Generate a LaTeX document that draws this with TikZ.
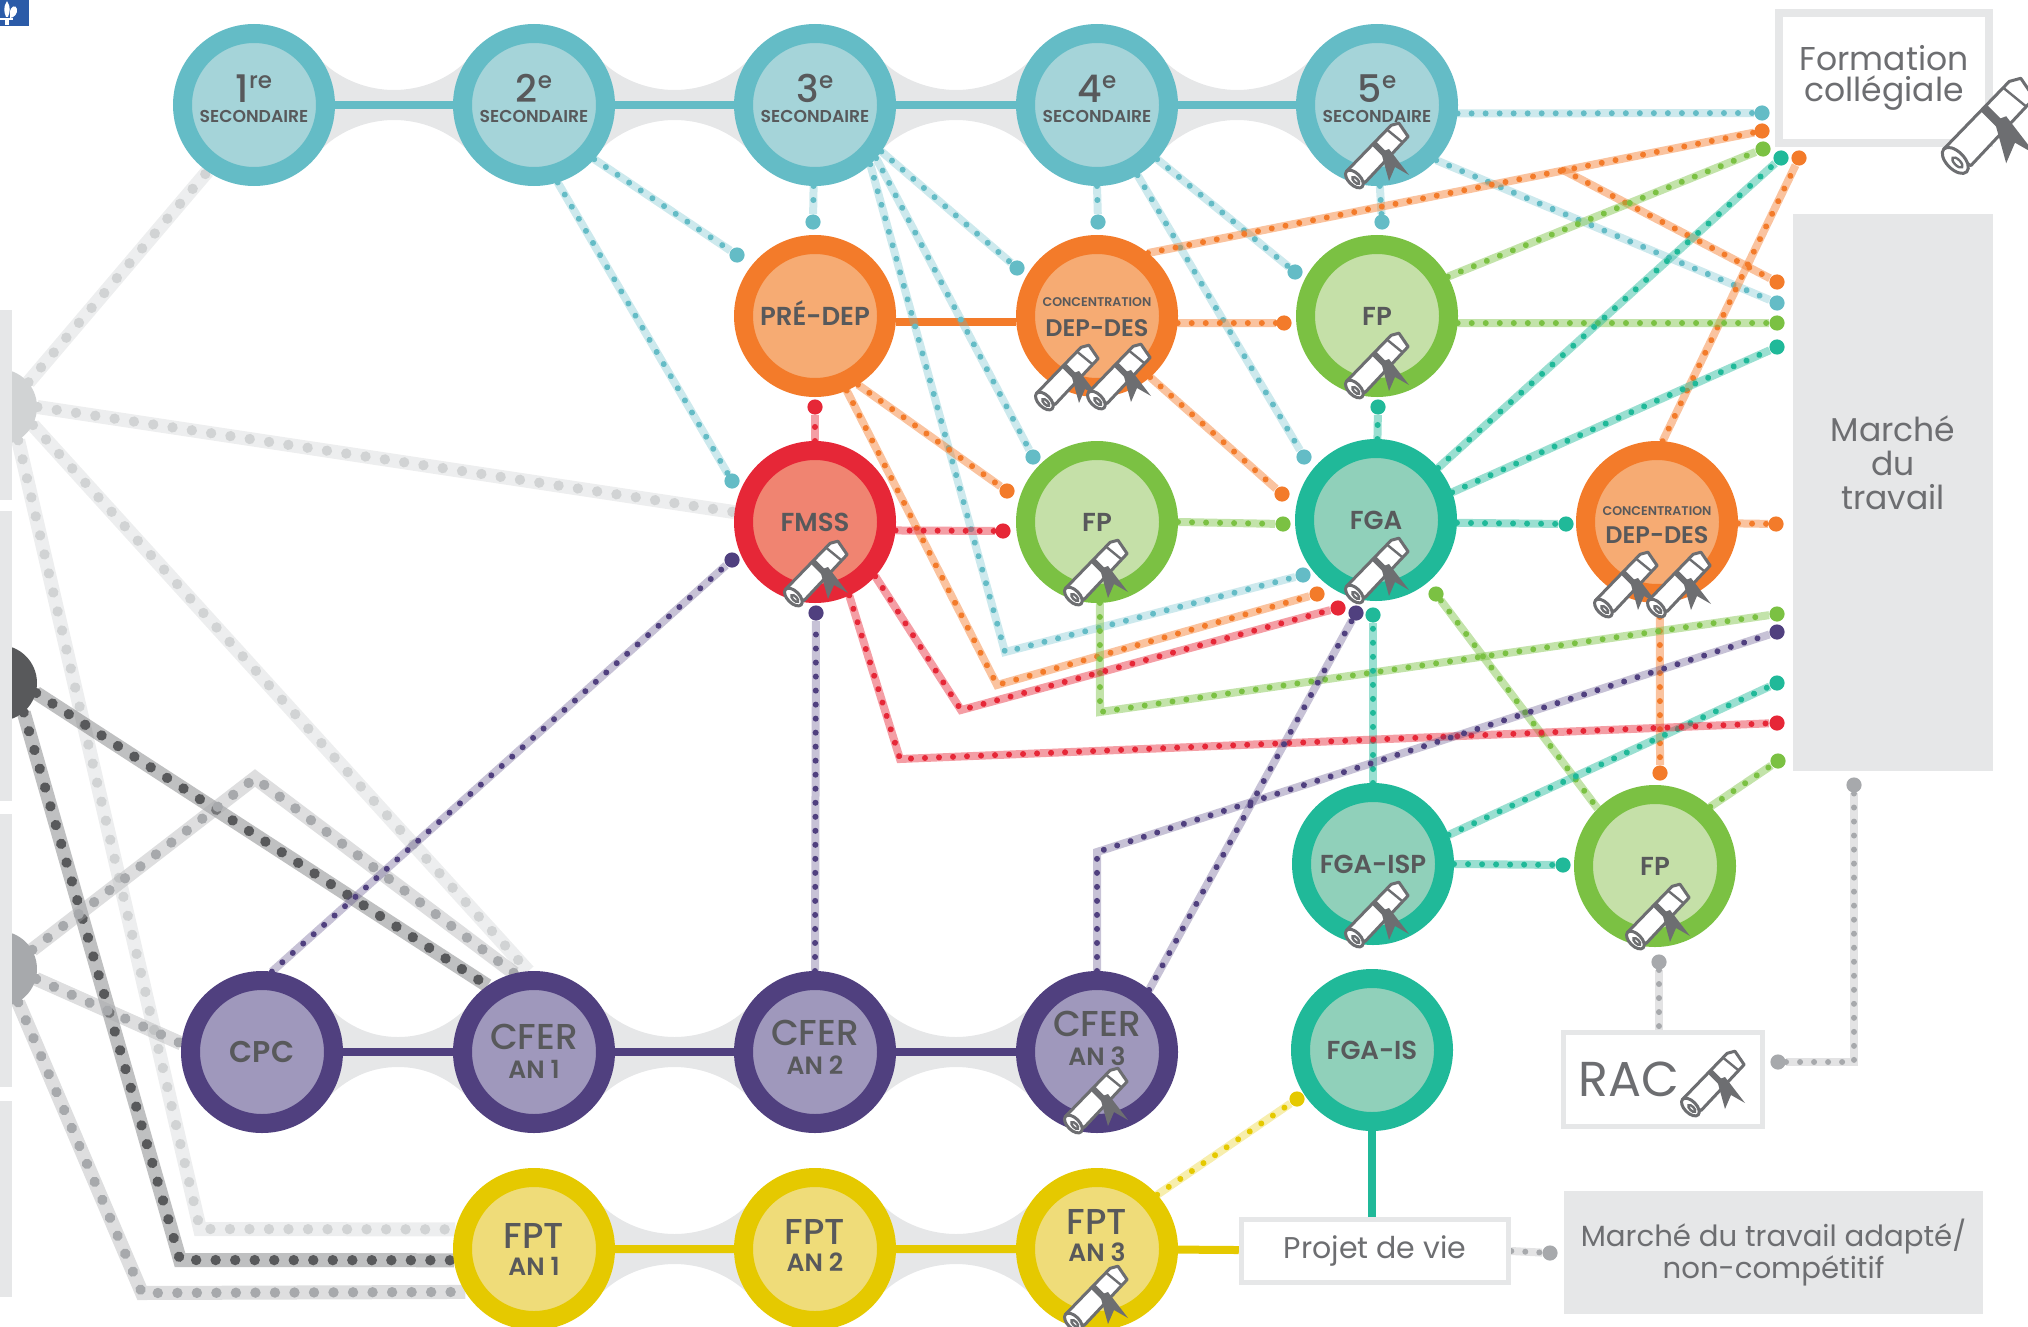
\documentclass[tikz,border=0pt]{standalone}
\usepackage{fontspec}
\setmainfont{Poppins}
\newfontfamily\medfont{Poppins SemiBold}
\newfontfamily\midfont{Poppins Medium}
\usetikzlibrary{calc}
\pgfdeclarelayer{back}
\pgfsetlayers{back,main}

\definecolor{txtd}{HTML}{58595B}
\definecolor{txtl}{HTML}{6D6E71}
\definecolor{boxg}{HTML}{E6E7E8}
\definecolor{clogo}{HTML}{2B5BA8}
\definecolor{cteal}{HTML}{64BCC6}
\definecolor{ctealp}{HTML}{A5D4D9}
\definecolor{corange}{HTML}{F37B2A}
\definecolor{corangep}{HTML}{F6AB73}
\definecolor{cgreen}{HTML}{7BC143}
\definecolor{cgreenp}{HTML}{C5E0A8}
\definecolor{cred}{HTML}{E62737}
\definecolor{credp}{HTML}{F08471}
\definecolor{cjade}{HTML}{20B999}
\definecolor{cjadep}{HTML}{90D0BA}
\definecolor{cpurple}{HTML}{50407F}
\definecolor{cpurplep}{HTML}{9F98BC}
\definecolor{cyellow}{HTML}{E5C900}
\definecolor{cyellowp}{HTML}{EFDC79}
\definecolor{glight}{HTML}{D1D3D4}
\definecolor{gdark}{HTML}{58595B}
\definecolor{gmid}{HTML}{A7A9AC}

\newcommand{\nodetxt}{\medfont\fontsize{13}{15}\selectfont}
\newcommand{\largetxt}{\fontsize{16.5}{16.5}\selectfont}
\newcommand{\rowtxt}{\midfont\fontsize{18}{18}\selectfont}
\newcommand{\subtxt}{\medfont\fontsize{12.5}{14}\selectfont}
\newcommand{\deptxt}{\medfont\fontsize{12}{14}\selectfont}
\newcommand{\tinytxt}{\medfont\fontsize{6.3}{7}\selectfont}
\newcommand{\sectxt}{\medfont\fontsize{8.6}{9}\selectfont}
% two lines of text on baselines raised from the centre of the node
\newcommand{\duo}[4]{\makebox[0pt]{\raisebox{#1}[0pt][0pt]{#2}}\makebox[0pt]{\raisebox{#3}[0pt][0pt]{#4}}}
\newcommand{\ordn}[2]{{\midfont\fontsize{19}{19}\selectfont #1}\raisebox{6.8pt}{\midfont\fontsize{11.5}{12}\selectfont #2}}
\newcommand{\linkweb}[2]{\fill[boxg] (#1.32) .. controls +(19,18) and +(-26,0) .. ($(#1)!.5!(#2)+(0,-15)$) .. controls +(26,0) and +(-19,18) .. (#2.148) -- (#2.-148) .. controls +(-19,-18) and +(26,0) .. ($(#1)!.5!(#2)+(0,15)$) .. controls +(-26,0) and +(19,-18) .. (#1.-32) -- cycle;}

\tikzset{
  stage/.style 2 args={circle,draw=#1,fill=#2,line width=9.5pt,minimum size=71.5pt,inner sep=0pt,text=txtd,font=\nodetxt},
  secnode/.style={stage={cteal}{ctealp}},
  depnode/.style={stage={corange}{corangep}},
  fpnode/.style={stage={cgreen}{cgreenp}},
  fganode/.style={stage={cjade}{cjadep}},
  cfernode/.style={stage={cpurple}{cpurplep}},
  fptnode/.style={stage={cyellow}{cyellowp}},
  srcnode/.style={circle,fill=#1,minimum size=38pt,inner sep=0pt},
  outbox/.style={draw=boxg,fill=white,line width=#1,inner sep=0pt,text=txtl,align=center},
  greybox/.style={fill=boxg,inner sep=0pt,outer sep=0pt,text=txtl,align=center},
  endpt/.style={circle,fill=#1,inner sep=0pt,minimum size=7.6pt},
  link/.style={draw=#1,draw opacity=.45,line width=4pt,postaction={draw=#1,draw opacity=1,line width=3pt,line cap=round,dash pattern=on 0.01pt off 7pt}},
  palelink/.style={link=#1,draw opacity=.32},
  biglink/.style={draw=#1,draw opacity=.38,line width=7pt,postaction={draw=#1,draw opacity=1,line width=5.2pt,line cap=round,dash pattern=on 0.01pt off 9.75pt}},
  spine/.style={draw=#1,line width=4pt},
  diploma/.pic={
    \begin{scope}[shift={(-1,-2)},rotate=45]
      \filldraw[draw=txtl,fill=white,line width=1.5pt,line join=round] (-33,-10) -- (31,-11) -- (38,-7) -- (35,9) -- (-28,11) -- cycle;
      \draw[txtl,line width=1.2pt] (25,-11) -- (27,9);
      \filldraw[draw=txtl,fill=white,line width=1.5pt] (-33,1) ellipse (6 and 11);
      \draw[txtl,line width=1.2pt] (-33,3) ellipse (2 and 4.5);
      \fill[txtl] (3,-11) rectangle (9,11);
    \end{scope}
    \fill[txtl] (3,-5) -- (11,24) -- (17,10) -- (31,18) -- (11,-8) -- cycle;
  }
}

\begin{document}
\begin{tikzpicture}[x=0.5pt,y=-0.5pt]
\useasboundingbox (0,0) rectangle (2028,1327);
\clip (0,0) rectangle (2028,1327);

% logo
\fill[clogo] (0,0) rectangle (29,26);
\fill[white] (7,1) .. controls (11,7) and (10,12) .. (8,17) -- (6,17) .. controls (4,12) and (3,7) .. (7,1);
\fill[white] (10,13) .. controls (10,6) and (16,4) .. (17,9) .. controls (18,13) and (14,18) .. (10,18) -- cycle;
\fill[white] (0,18) rectangle (13,20);
\fill[white] (5,20) rectangle (9,25);

% sources at the left
\node[srcnode=glight] (src_1) at (-1,407) {};
\node[srcnode=gdark]  (src_2) at (-1,683) {};
\node[srcnode=gmid]   (src_3) at (-1,969) {};
\foreach \a/\b in {310/500,511/801,814/1087,1101/1297}
  \fill[boxg] (0,\a) rectangle (12,\b);

% secondaire
\node[secnode] (s_1) at (254,105)  {\duo{1.5pt}{\ordn{1}{re}}{-9pt}{\sectxt SECONDAIRE}};
\node[secnode] (s_2) at (534,105)  {\duo{1.5pt}{\ordn{2}{e}}{-9pt}{\sectxt SECONDAIRE}};
\node[secnode] (s_3) at (815,105)  {\duo{1.5pt}{\ordn{3}{e}}{-9pt}{\sectxt SECONDAIRE}};
\node[secnode] (s_4) at (1097,105) {\duo{1.5pt}{\ordn{4}{e}}{-9pt}{\sectxt SECONDAIRE}};
\node[secnode] (s_5) at (1377,105) {\duo{1.5pt}{\ordn{5}{e}}{-9pt}{\sectxt SECONDAIRE}};

% formations
\node[depnode] (pre) at (815,316) {\duo{-4.5pt}{PRÉ-DEP}{0pt}{}};
\node[depnode] (dep_1) at (1097,316) {\duo{4.75pt}{\tinytxt CONCENTRATION}{-10pt}{\deptxt DEP-DES}};
\node[fpnode] (fp_1) at (1377,316) {FP};
\node[stage={cred}{credp}] (fmss) at (815,522) {FMSS};
\node[fpnode] (fp_2) at (1097,522) {FP};
\node[fganode] (fga) at (1376,520) {FGA};
\node[depnode] (dep_2) at (1657,522) {\duo{3.5pt}{\tinytxt CONCENTRATION}{-10.5pt}{\deptxt DEP-DES}};
\node[fganode] (isp) at (1373,864) {FGA-ISP};
\node[fpnode] (fp_3) at (1655,866) {FP};
\node[fganode] (is) at (1372,1050) {FGA-IS};

% cfer et fpt
\node[cfernode,font=\medfont\fontsize{15}{15}\selectfont] (cpc) at (262,1052) {CPC};
\node[cfernode] (cf_1) at (534,1052) {\duo{1.5pt}{\rowtxt CFER}{-13pt}{\subtxt AN 1}};
\node[cfernode] (cf_2) at (815,1052) {\duo{3.5pt}{\rowtxt CFER}{-11pt}{\subtxt AN 2}};
\node[cfernode] (cf_3) at (1097,1052) {\duo{8pt}{\rowtxt CFER}{-6.5pt}{\subtxt AN 3}};
\node[fptnode] (fpt_1) at (534,1249) {\duo{.5pt}{\rowtxt FPT}{-13pt}{\subtxt AN 1}};
\node[fptnode] (fpt_2) at (815,1249) {\duo{2.5pt}{\rowtxt FPT}{-11pt}{\subtxt AN 2}};
\node[fptnode] (fpt_3) at (1097,1249) {\duo{7.5pt}{\rowtxt FPT}{-6pt}{\subtxt AN 3}};

% boxes
\node[outbox=4pt,minimum width=105pt,minimum height=65pt,font=\fontsize{16.5}{15.5}\selectfont] (cegep) at (1884,78) {Formation\\collégiale};
\node[greybox,minimum width=100pt,minimum height=278.5pt] (market) at (1893,492.5)
  {\raisebox{12.5pt}[0pt][0pt]{\parbox[c]{90pt}{\centering\largetxt\baselineskip=17pt Marché\\du\\travail\par}}};
\node[outbox=2.5pt,minimum width=99.75pt,minimum height=47pt,font=\fontsize{24.5}{24.5}\selectfont] (rac) at (1663,1079.5) {\makebox[0pt]{RAC\kern34pt}};
\node[outbox=2.5pt,minimum width=133.75pt,minimum height=31.5pt,font=\fontsize{15}{16}\selectfont] (projet) at (1375,1251) {Projet de vie};
\node[greybox,minimum width=209.5pt,minimum height=61.5pt,font=\fontsize{14.6}{16.4}\selectfont] (adapte) at (1773.5,1252.5) {Marché du travail adapté/\\non-compétitif};

% diplomas
\foreach \x/\y in {1378/157,1378/367,817/575,1097/574,1378/572,1378/916,1659/918,1097/1102,1097/1300,1068/379,1120/378,1627/586,1680/586,1714/1085}
  \pic at (\x,\y) {diploma};
\pic[scale=1.47] at (1990,128) {diploma};

% end points
\foreach \n/\x/\y in {1/1762/113,2/1777/303,3/1382/222,4/813/222,5/1017/268,6/1033/457,7/1303/575,8/1098/222,9/1295/272,10/1304/457,11/737/255,12/732/481}
  \node[endpt=cteal] (te\n) at (\x,\y) {};
\foreach \n/\x/\y in {1/1762/131,2/1777/282,3/1799/158,4/1007/491,5/1317/594,6/1284/323,7/1282/494,8/1776/524,9/1660/773}
  \node[endpt=corange] (or\n) at (\x,\y) {};
\foreach \n/\x/\y in {1/1763/149,2/1777/323,3/1283/524,4/1777/614,5/1436/594,6/1778/761}
  \node[endpt=cgreen] (gr\n) at (\x,\y) {};
\foreach \n/\x/\y in {1/1781/158,2/1777/347,3/1378/407,4/1566/524,5/1373/615,6/1777/683,7/1563/865}
  \node[endpt=cjade] (ja\n) at (\x,\y) {};
\foreach \n/\x/\y in {1/815/407,2/1003/531,3/1338/608,4/1777/723}
  \node[endpt=cred] (re\n) at (\x,\y) {};
\foreach \n/\x/\y in {1/732/560,2/816/613,3/1777/632,4/1356/613}
  \node[endpt=cpurple] (pu\n) at (\x,\y) {};
\foreach \n/\x/\y in {1/1659/962,2/1854/785,3/1778/1062,4/1550/1253}
  \node[endpt=gmid] (gy\n) at (\x,\y) {};
\node[endpt=cyellow] (ye1) at (1297,1099) {};

% elbows of the connectors
\coordinate (bendte) at (1005,652);
\coordinate (bendor) at (997,685);
\coordinate (splitor) at (1563,170);
\coordinate (bendre1) at (961,710);
\coordinate (bendre2) at (900,759);
\coordinate (bendgr) at (1100,712);
\coordinate (bendpu) at (1097,852);
\coordinate (bendgy) at (1854,1062);
\coordinate (bendsrc1) at (200,1229);
\coordinate (bendsrc2) at (180,1260);
\coordinate (bendsrc3) at (142,1293);
\coordinate (bendsrc4) at (255,778);

\begin{pgfonlayer}{back}
\linkweb{s_1}{s_2} \linkweb{s_2}{s_3} \linkweb{s_3}{s_4} \linkweb{s_4}{s_5}
\linkweb{cpc}{cf_1} \linkweb{cf_1}{cf_2} \linkweb{cf_2}{cf_3}
\linkweb{fpt_1}{fpt_2} \linkweb{fpt_2}{fpt_3}
\draw[spine=cteal] (s_1) -- (s_2) -- (s_3) -- (s_4) -- (s_5);
\draw[spine=cpurple] (cpc) -- (cf_1) -- (cf_2) -- (cf_3);
\draw[spine=cyellow] (fpt_1) -- (fpt_2) -- (fpt_3) -- (projet);
\draw[spine=corange] (pre.-4) -- (dep_1.184);
\draw[spine=cjade] (is.south) -- (is.south |- projet.north);

\draw[biglink=glight] (src_1.40) -- (s_1.-125);
\draw[biglink=glight] (src_1.0) -- (fmss.173);
\draw[biglink=glight] (src_1.-28) -- (cf_1.94);
\draw[biglink=glight] (src_1.-60) -- (bendsrc1) -- (fpt_1.166);
\draw[biglink=gdark] (src_2.-15) -- (cf_1.125);
\draw[biglink=gdark] (src_2.-50) -- (bendsrc2) -- (fpt_1.188);
\draw[biglink=gmid] (src_3.30) -- (bendsrc4) -- (cf_1.104);
\draw[biglink=gmid] (src_3.-15) -- (cpc.174);
\draw[biglink=gmid] (src_3.-60) -- (bendsrc3) -- (fpt_1.-148);

\draw[palelink=cteal] (s_5.-6) -- (te1);
\draw[palelink=cteal] (s_5.-43) -- (te2);
\draw[palelink=cteal] (s_5.-88) -- (te3);
\draw[palelink=cteal] (s_3.-91) -- (te4);
\draw[palelink=cteal] (s_3.-35) -- (te5);
\draw[palelink=cteal] (s_3.-41) -- (te6);
\draw[palelink=cteal] (s_3.-47) -- (bendte) -- (te7);
\draw[palelink=cteal] (s_4.-90) -- (te8);
\draw[palelink=cteal] (s_4.-42) -- (te9);
\draw[palelink=cteal] (s_4.-60) -- (te10);
\draw[palelink=cteal] (s_2.-42) -- (te11);
\draw[palelink=cteal] (s_2.-73) -- (te12);

\draw[link=corange] (dep_1.51) -- (or1);
\draw[link=corange] (splitor) -- (or2);
\draw[link=corange] (dep_2.86) -- (or3);
\draw[link=corange] (pre.-58) -- (or4);
\draw[link=corange] (pre.-67) -- (bendor) -- (or5);
\draw[link=corange] (dep_1.-5) -- (or6);
\draw[link=corange] (dep_1.-49) -- (or7);
\draw[link=corange] (dep_2.-1) -- (or8);
\draw[link=corange] (dep_2.-88) -- (or9);

\draw[link=cgreen] (fp_1.29) -- (gr1);
\draw[link=cgreen] (fp_1.-5) -- (gr2);
\draw[link=cgreen] (fp_2.0) -- (gr3);
\draw[link=cgreen] (fp_2.-88) -- (bendgr) -- (gr4);
\draw[link=cgreen] (gr5) -- (fp_3.135);
\draw[link=cgreen] (fp_3.47) -- (gr6);

\draw[link=cjade] (fga.40) -- (ja1);
\draw[link=cjade] (fga.20) -- (ja2);
\draw[link=cjade] (fga.89) -- (ja3);
\draw[link=cjade] (fga.-2) -- (ja4);
\draw[link=cjade] (isp.90) -- (ja5);
\draw[link=cjade] (isp.21) -- (ja6);
\draw[link=cjade] (isp.0) -- (ja7);

\draw[link=cred] (fmss.90) -- (re1);
\draw[link=cred] (fmss.-6) -- (re2);
\draw[link=cred] (fmss.-42) -- (bendre1) -- (re3);
\draw[link=cred] (fmss.-65) -- (bendre2) -- (re4);

\draw[palelink=cpurple] (cpc.83) -- (pu1);
\draw[palelink=cpurple] (cf_2.90) -- (pu2);
\draw[palelink=cpurple] (cf_3.90) -- (bendpu) -- (pu3);
\draw[palelink=cpurple] (cf_3.50) -- (pu4);

\draw[palelink=gmid] (gy1) -- (gy1 |- rac.north);
\draw[palelink=gmid] (gy3) -- (bendgy) -- (gy2);
\draw[palelink=gmid] (projet.east) -- (gy4);
\draw[palelink=cyellow] (fpt_3.42) -- (ye1);
\end{pgfonlayer}
\end{tikzpicture}
\end{document}
